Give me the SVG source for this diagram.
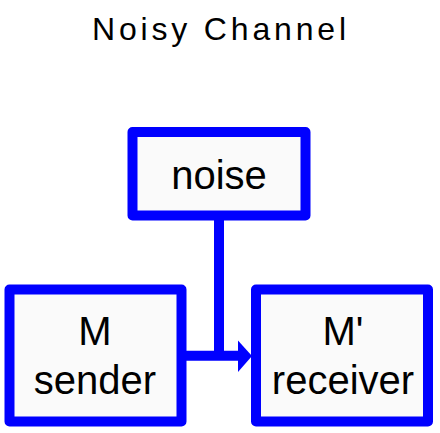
<svg xmlns="http://www.w3.org/2000/svg" width="440" height="433" viewBox="0 0 440 433">
<style>
.box{fill:#fafafa;stroke:#0000ff;stroke-width:10;stroke-linejoin:round}
.lbl{font-family:"Liberation Sans",Arial,sans-serif;font-size:40px;fill:#000;text-anchor:middle}
.title{font-family:"Liberation Sans",Arial,sans-serif;font-size:32px;fill:#000}
.edge{stroke:#0000ff;stroke-width:10;fill:none}
</style>
<rect width="440" height="433" fill="#ffffff"/>
<text class="title" x="92" y="39.5" textLength="254" lengthAdjust="spacing">Noisy Channel</text>
<g id="connectors">
<line class="edge" x1="219" y1="215" x2="219" y2="356"/>
<line class="edge" x1="181" y1="355.7" x2="239" y2="355.7"/>
<polygon points="238,340.5 252,356 238,372" fill="#0000ff"/>
</g>
<g id="noise">
<rect class="box" x="132.5" y="132" width="173" height="83.5"/>
<text class="lbl" x="219" y="188.5">noise</text>
</g>
<g id="sender">
<rect class="box" x="9.5" y="289.5" width="172" height="132"/>
<text class="lbl" x="95" y="345">M</text>
<text class="lbl" x="95" y="393.5">sender</text>
</g>
<g id="receiver">
<rect class="box" x="256" y="289.5" width="172" height="132"/>
<text class="lbl" x="343" y="345">M'</text>
<text class="lbl" x="343" y="393.5">receiver</text>
</g>
</svg>
